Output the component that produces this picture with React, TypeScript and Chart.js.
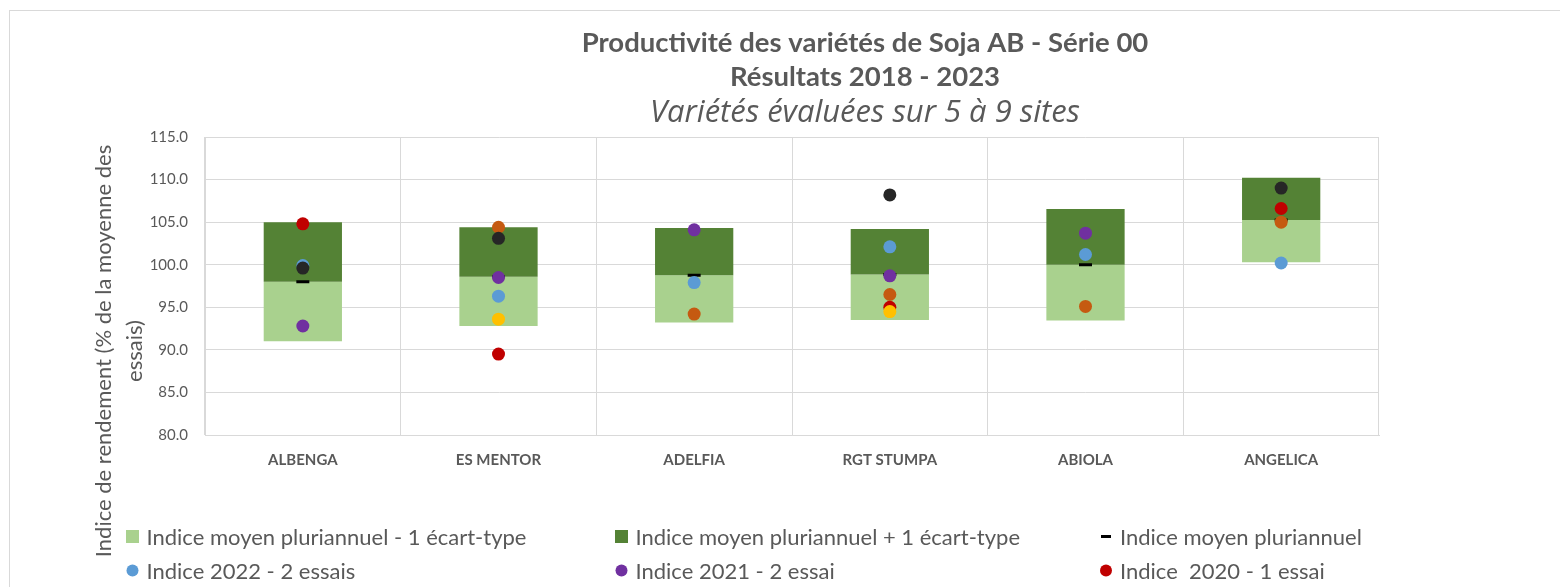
import React, { useEffect, useRef } from 'react';
import { Chart, registerables } from 'chart.js';

Chart.register(...registerables);

// ---------- data ----------
const categories = ['ALBENGA', 'ES MENTOR', 'ADELFIA', 'RGT STUMPA', 'ABIOLA', 'ANGELICA'];
const meanIndex = [98.0, 98.6, 98.75, 98.85, 100.0, 105.25];
const stdDev = [7.0, 5.8, 5.55, 5.35, 6.55, 4.95];
const index2022 = [99.9, 96.3, 97.9, 102.1, 101.2, 100.2];
const index2021 = [92.8, 98.5, 104.1, 98.7, 103.7, null];
const index2020 = [104.8, 89.5, null, 95.0, null, 106.6];
const index2019 = [99.6, 103.1, null, 108.2, null, 109.0];
const index2018 = [null, 93.6, null, 94.5, null, null];
const index2023 = [null, 104.4, 94.2, 96.5, 95.1, 105.0];

const titleLines = ['Productivité des variétés de Soja AB - Série 00', 'Résultats 2018 - 2023'];
const subtitleText = 'Variétés évaluées sur 5 à 9 sites';
const yAxisTitle = ['Indice de rendement (% de la moyenne des', 'essais)'];
const yMin = 80;
const yMax = 115;
const yStep = 5;

// ---------- styling ----------
const FONT = 'Lato';
const TEXT = '#595959';
const GRID = '#D9D9D9';
const CANVAS_W = 1730;
const CANVAS_H = 650;
const PLOT_LEFT = 205;
const PLOT_RIGHT = 1379;
const PLOT_BOTTOM = 435;

const frameAndAxisTitle = {
  id: 'frameAndAxisTitle',
  beforeDraw(chart: any) {
    const ctx = chart.ctx;
    ctx.save();
    ctx.fillStyle = '#ffffff';
    ctx.fillRect(0, 0, chart.width, chart.height);
    ctx.strokeStyle = GRID;
    ctx.lineWidth = 1;
    ctx.strokeRect(9.5, 10.5, 5000, 5000);
    ctx.restore();
  },
  afterDraw(chart: any) {
    const ctx = chart.ctx;
    // y axis title (two lines, rotated)
    ctx.save();
    ctx.fillStyle = TEXT;
    ctx.font = `22px ${FONT}`;
    ctx.textAlign = 'center';
    ctx.textBaseline = 'middle';
    ctx.translate(104, 351);
    ctx.rotate(-Math.PI / 2);
    yAxisTitle.forEach((line, i) => ctx.fillText(line, 0, i * 31));
    ctx.restore();

    // legend in three columns
    const cols = [132.5, 621.5, 1106];
    const rows = [536.5, 570.5, 604.5];
    chart.data.datasets.forEach((ds: any, i: number) => {
      const cx = cols[i % 3];
      const cy = rows[Math.floor(i / 3)];
      ctx.save();
      if (ds.type === 'bar') {
        ctx.fillStyle = ds.backgroundColor;
        ctx.fillRect(cx - 6.5, cy - 6.5, 13, 13);
      } else if (ds.pointStyle === 'line') {
        ctx.strokeStyle = ds.pointBorderColor;
        ctx.lineWidth = 3;
        ctx.beginPath();
        ctx.moveTo(cx - 5, cy);
        ctx.lineTo(cx + 5, cy);
        ctx.stroke();
      } else {
        ctx.fillStyle = ds.pointBackgroundColor;
        ctx.beginPath();
        ctx.arc(cx, cy, 6, 0, Math.PI * 2);
        ctx.fill();
      }
      ctx.fillStyle = TEXT;
      ctx.font = `22px ${FONT}`;
      ctx.textAlign = 'left';
      ctx.textBaseline = 'middle';
      ctx.fillText(ds.label, cx + 14, cy + 1);
      ctx.restore();
    });
  },
};

function pointSeries(label: string, data: (number | null)[], color: string, order: number) {
  return {
    type: 'line',
    label,
    data,
    showLine: false,
    pointStyle: 'circle',
    pointRadius: 6.5,
    pointHoverRadius: 6.5,
    pointBorderWidth: 0,
    pointBackgroundColor: color,
    pointBorderColor: color,
    backgroundColor: color,
    borderColor: color,
    order,
  };
}

export default function App() {
  const ref = useRef<HTMLCanvasElement>(null);

  useEffect(() => {
    if (!ref.current) return;
    const lowerBars = meanIndex.map((m, i) => [m - stdDev[i], m]);
    const upperBars = meanIndex.map((m, i) => [m, m + stdDev[i]]);

    const chart = new Chart(ref.current, {
      type: 'bar',
      data: {
        labels: categories,
        datasets: [
          {
            type: 'bar',
            label: 'Indice moyen pluriannuel - 1 écart-type',
            data: lowerBars,
            backgroundColor: '#A9D18E',
            borderWidth: 0,
            barPercentage: 1,
            categoryPercentage: 0.4,
            order: 20,
          },
          {
            type: 'bar',
            label: 'Indice moyen pluriannuel + 1 écart-type',
            data: upperBars,
            backgroundColor: '#548235',
            borderWidth: 0,
            barPercentage: 1,
            categoryPercentage: 0.4,
            order: 19,
          },
          {
            type: 'line',
            label: 'Indice moyen pluriannuel',
            data: meanIndex,
            showLine: false,
            pointStyle: 'line',
            pointRadius: 6.5,
            pointHoverRadius: 6.5,
            pointBorderWidth: 3,
            pointBorderColor: '#000000',
            pointBackgroundColor: '#000000',
            borderColor: '#000000',
            backgroundColor: '#000000',
            order: 15,
          },
          pointSeries('Indice 2022 - 2 essais', index2022, '#5B9BD5', 10),
          pointSeries('Indice 2021 - 2 essai', index2021, '#7030A0', 9),
          pointSeries('Indice  2020 - 1 essai', index2020, '#C00000', 8),
          pointSeries('Indice 2019 - 1 essai', index2019, '#262626', 5),
          pointSeries('Indice 2018 - 1 essai', index2018, '#FFC000', 4),
          pointSeries('Indice 2023 - 2 essais', index2023, '#C55A11', 6),
        ] as any,
      },
      options: {
        responsive: false,
        animation: false,
        events: [],
        layout: { padding: 0 },
        plugins: {
          legend: { display: false },
          tooltip: { enabled: false },
          title: {
            display: true,
            text: titleLines,
            color: TEXT,
            font: { family: FONT, size: 27.5, weight: 'bold', lineHeight: 34 / 27.5 },
            padding: { top: 26, bottom: 0 },
          },
          subtitle: {
            display: true,
            text: subtitleText,
            color: TEXT,
            font: { family: "'Open Sans'", size: 31, style: 'italic', weight: 'normal', lineHeight: 34 / 31 },
            padding: { top: 2, bottom: 7 },
          },
        },
        scales: {
          x: {
            stacked: true,
            grid: { color: GRID, drawTicks: false, offset: true },
            border: { color: GRID },
            ticks: {
              color: TEXT,
              font: { family: FONT, size: 15, weight: 'bold' },
              padding: 16,
              maxRotation: 0,
              autoSkip: false,
            },
            afterFit: (s: any) => {
              s.height = CANVAS_H - PLOT_BOTTOM;
            },
          },
          y: {
            stacked: false,
            min: yMin,
            max: yMax,
            grid: { color: GRID, drawTicks: false },
            border: { color: GRID },
            ticks: {
              stepSize: yStep,
              color: TEXT,
              font: { family: FONT, size: 15 },
              padding: 17,
              callback: (v: any) => Number(v).toFixed(1),
            },
            afterFit: (s: any) => {
              s.width = PLOT_LEFT;
            },
          },
          yRight: {
            type: 'linear',
            position: 'right',
            display: true,
            grid: { display: false },
            border: { display: false },
            ticks: { display: false },
            afterFit: (s: any) => {
              s.width = CANVAS_W - PLOT_RIGHT;
            },
          },
        },
      } as any,
      plugins: [frameAndAxisTitle],
    });

    return () => chart.destroy();
  }, []);

  return (
    <div
      style={{
        position: 'fixed',
        left: 0,
        top: 0,
        width: '100vw',
        height: '100vh',
        overflow: 'hidden',
        background: '#ffffff',
      }}
    >
      <canvas
        ref={ref}
        width={CANVAS_W}
        height={CANVAS_H}
        style={{ position: 'absolute', left: 0, top: 0, width: CANVAS_W, height: CANVAS_H }}
      />
    </div>
  );
}
